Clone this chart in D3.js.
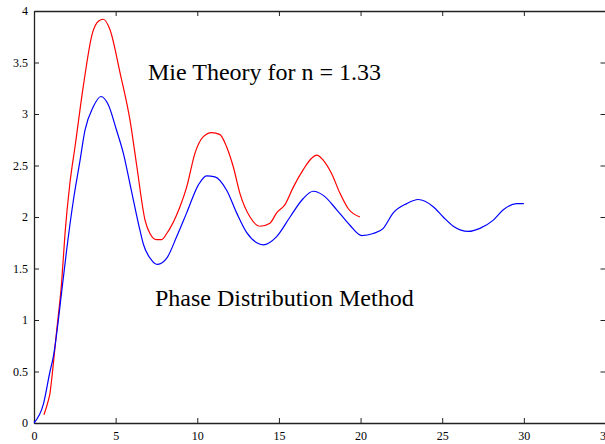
<!DOCTYPE html>
<html>
<head>
<meta charset="utf-8">
<script src="https://cdn.jsdelivr.net/npm/d3@7"></script>
<style>
  html, body { margin: 0; padding: 0; background: #fff; }
  svg { display: block; }
  .axis path, .axis line { stroke: #222; }
  .axis text { font: 12px "Liberation Serif", "Times New Roman", serif; fill: #000; }
  .label { font: 24px "Liberation Serif", "Times New Roman", serif; fill: #000; }
</style>
</head>
<body>
<div id="chart"></div>
<script>
// red curve: Mie theory
var mieX = [0.61, 0.88, 0.98, 1.08, 1.39, 1.69, 1.90, 2.20, 2.51, 3.02, 3.57, 3.94, 4.24, 4.65, 5.27, 5.88, 6.29, 6.80, 7.10, 7.51, 7.82, 8.13, 8.94, 9.35, 9.86, 10.37, 10.88, 11.39, 11.80, 12.20, 12.61, 13.23, 13.84, 14.45, 14.86, 15.37, 15.88, 16.49, 17.00, 17.31, 17.72, 18.23, 18.74, 19.25, 19.96];
var mieY = [0.08, 0.22, 0.29, 0.42, 0.90, 1.36, 1.84, 2.33, 2.68, 3.27, 3.78, 3.90, 3.92, 3.82, 3.40, 2.94, 2.50, 1.97, 1.84, 1.78, 1.78, 1.84, 2.10, 2.29, 2.62, 2.78, 2.82, 2.80, 2.68, 2.49, 2.23, 2.00, 1.91, 1.94, 2.04, 2.12, 2.29, 2.46, 2.57, 2.60, 2.55, 2.42, 2.23, 2.08, 2.00];

// blue curve: phase distribution method
var phaseX = [0, 0.57, 0.98, 1.18, 1.73, 2.00, 2.41, 2.82, 3.12, 3.63, 4.10, 4.55, 5.06, 5.47, 5.88, 6.49, 6.69, 7.21, 7.57, 8.13, 8.74, 9.35, 10.06, 10.57, 11.08, 11.80, 12.41, 13.02, 13.64, 14.04, 14.86, 15.68, 16.49, 17.10, 17.72, 18.54, 19.35, 20.07, 20.78, 21.39, 22.00, 22.82, 23.53, 24.45, 25.06, 25.68, 26.60, 27.31, 28.13, 28.74, 29.56, 30.00];
var phaseY = [0, 0.18, 0.50, 0.64, 1.32, 1.68, 2.16, 2.55, 2.84, 3.07, 3.17, 3.09, 2.84, 2.62, 2.32, 1.87, 1.74, 1.58, 1.54, 1.60, 1.81, 2.04, 2.31, 2.40, 2.39, 2.26, 2.04, 1.85, 1.75, 1.73, 1.81, 2.00, 2.18, 2.25, 2.21, 2.07, 1.92, 1.82, 1.84, 1.89, 2.04, 2.13, 2.17, 2.10, 2.00, 1.91, 1.86, 1.89, 1.97, 2.07, 2.13, 2.13];

var xTicks = [0, 5, 10, 15, 20, 25, 30, 35];
var yTicks = [0, 0.5, 1, 1.5, 2, 2.5, 3, 3.5, 4];

var labels = ["Mie Theory for n = 1.33", "Phase Distribution Method"];

(function() {

  var width = 605,
      height = 444;

  var left = 34, right = 605.5, top = 11, bottom = 423;

  var x = d3.scaleLinear()
      .domain([0, 35])
      .range([left, right]);

  var y = d3.scaleLinear()
      .domain([0, 4])
      .range([bottom, top]);

  var svg = d3.select("#chart").append("svg")
      .attr("width", width)
      .attr("height", height);

  // matlab style box, ticks pointing inward
  svg.append("g")
      .attr("class", "axis")
      .attr("transform", "translate(0," + bottom + ")")
      .call(d3.axisBottom(x).tickValues(xTicks).tickFormat(String).tickSizeInner(-5).tickSizeOuter(0).tickPadding(8));

  svg.append("g")
      .attr("class", "axis")
      .attr("transform", "translate(0," + top + ")")
      .call(d3.axisTop(x).tickValues(xTicks).tickSizeInner(-5).tickSizeOuter(0).tickFormat(""));

  svg.append("g")
      .attr("class", "axis")
      .attr("transform", "translate(" + left + ",0)")
      .call(d3.axisLeft(y).tickValues(yTicks).tickFormat(String).tickSizeInner(-5).tickSizeOuter(0).tickPadding(6));

  svg.append("g")
      .attr("class", "axis")
      .attr("transform", "translate(" + right + ",0)")
      .call(d3.axisRight(y).tickValues(yTicks).tickSizeInner(-5).tickSizeOuter(0).tickFormat(""));

  svg.selectAll(".axis path").attr("stroke-width", 1.3);

  var line = d3.line()
      .curve(d3.curveMonotoneX)
      .x(d => x(d[0]))
      .y(d => y(d[1]));

  svg.append("path")
      .datum(d3.zip(mieX, mieY))
      .attr("fill", "none")
      .attr("stroke", "#ff0000")
      .attr("stroke-width", 1.2)
      .attr("d", line);

  svg.append("path")
      .datum(d3.zip(phaseX, phaseY))
      .attr("fill", "none")
      .attr("stroke", "#0000ff")
      .attr("stroke-width", 1.2)
      .attr("d", line);

  svg.append("text")
      .attr("class", "label")
      .attr("x", 148)
      .attr("y", 80)
      .text(labels[0]);

  svg.append("text")
      .attr("class", "label")
      .attr("x", 155)
      .attr("y", 306)
      .text(labels[1]);

})();
</script>
</body>
</html>
